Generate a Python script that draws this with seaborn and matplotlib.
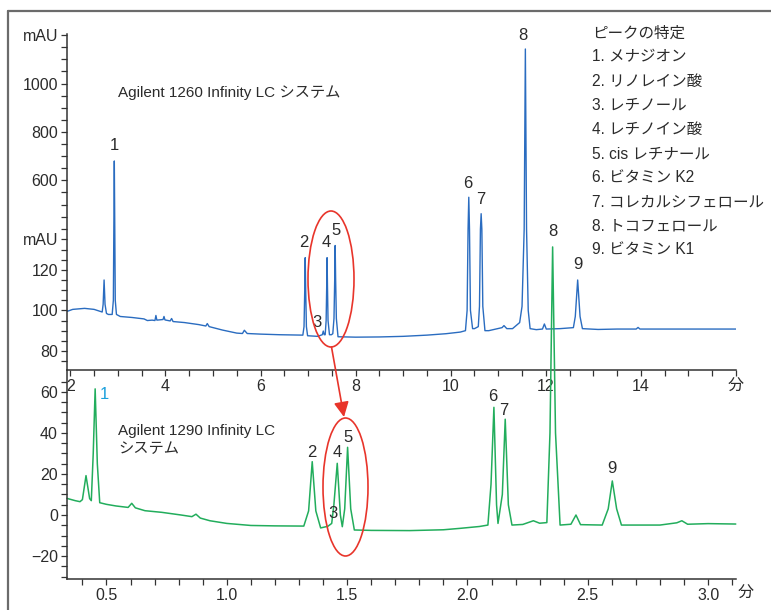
import numpy as np
import pandas as pd
import matplotlib
matplotlib.use("Agg")
import matplotlib.pyplot as plt
from matplotlib.patches import Ellipse, FancyArrowPatch
from matplotlib.lines import Line2D
from matplotlib import font_manager
import seaborn as sns

# ---------------- data ----------------
# Agilent 1260 chromatogram: time (min), signal (mAU)
t1260 = [1.93, 2.05, 2.30, 2.50, 2.67, 2.69, 2.71, 2.73, 2.76, 2.80, 2.88, 2.905, 2.915, 2.925, 2.935,
         2.945, 2.97, 3.05, 3.30, 3.55, 3.62, 3.72, 3.78, 3.80, 3.82, 3.95, 3.97, 3.99, 4.10, 4.13,
         4.16, 4.40, 4.70, 4.85, 4.88, 4.92, 5.20, 5.50, 5.62, 5.66, 5.72, 6.00, 6.40, 6.89, 6.915,
         6.93, 6.94, 6.95, 6.965, 6.99, 7.20, 7.30, 7.32, 7.34, 7.36, 7.38, 7.392, 7.40, 7.408, 7.42,
         7.45, 7.49, 7.52, 7.545, 7.56, 7.57, 7.58, 7.595, 7.63, 8.00, 8.50, 9.00, 9.50, 9.90, 10.20,
         10.31, 10.345, 10.365, 10.38, 10.395, 10.415, 10.46, 10.50, 10.58, 10.605, 10.625, 10.64,
         10.655, 10.675, 10.72, 10.80, 11.08, 11.12, 11.18, 11.30, 11.45, 11.50, 11.545, 11.57,
         11.595, 11.63, 11.67, 11.80, 11.93, 11.97, 12.01, 12.30, 12.58, 12.62, 12.645, 12.67,
         12.695, 12.72, 12.77, 13.10, 13.50, 13.90, 13.94, 13.98, 14.50, 16.00]
mau1260 = [99.5, 100.5, 101.0, 100.5, 99.2, 103, 115, 103, 98.5, 98.0, 98.0, 105, 200, 680, 200,
           105, 98.0, 97.0, 96.5, 95.8, 95.0, 95.2, 95.0, 97.5, 95.2, 95.5, 97.0, 95.3, 94.8, 96.0,
           94.5, 94.0, 93.0, 92.3, 93.5, 92.0, 90.3, 88.8, 88.6, 90.2, 88.6, 88.3, 88.0, 87.8, 92,
           110, 126, 110, 92, 87.5, 87.2, 88.0, 89.8, 88.0, 88.0, 95, 112, 126, 112, 95,
           88.0, 88.0, 88.5, 96, 115, 132, 115, 96, 87.0, 86.8, 86.9, 87.2, 87.8, 88.5, 89.3,
           90.0, 100, 200, 530, 200, 100, 91.0, 91.0, 92.0, 102, 200, 462,
           200, 102, 90.0, 90.0, 91.5, 92.5, 91.0, 91.0, 94.0, 102, 200, 1143,
           200, 100, 91.0, 90.5, 90.8, 93.3, 90.8, 91.0, 91.5, 97, 106, 115,
           106, 97, 91.0, 90.6, 90.8, 90.8, 91.6, 90.8, 90.8, 90.8]

# Agilent 1290 chromatogram: time (min), signal (mAU)
t1290 = [0.336, 0.37, 0.39, 0.40, 0.415, 0.43, 0.437, 0.445, 0.453, 0.462, 0.472, 0.50, 0.54, 0.59,
         0.605, 0.62, 0.66, 0.73, 0.81, 0.855, 0.872, 0.89, 0.93, 1.00, 1.10, 1.20, 1.32, 1.34,
         1.355, 1.37, 1.39, 1.42, 1.436, 1.445, 1.459, 1.472, 1.48, 1.49, 1.502, 1.515, 1.53, 1.60,
         1.76, 1.90, 1.97, 2.05, 2.085, 2.098, 2.11, 2.121, 2.127, 2.145, 2.157, 2.17, 2.185, 2.23,
         2.274, 2.30, 2.33, 2.343, 2.354, 2.366, 2.385, 2.43, 2.451, 2.47, 2.56, 2.585, 2.602, 2.62,
         2.64, 2.80, 2.87, 2.891, 2.915, 3.00, 3.115]
mau1290 = [8.1, 7.0, 6.5, 7.5, 19.2, 8.0, 7.0, 30, 61.5, 25, 6.0, 5.2, 4.4, 3.7,
           5.7, 3.5, 2.1, 1.3, 0.0, -0.8, 0.4, -1.5, -2.8, -4.1, -5.1, -5.3, -5.4, 2.0,
           26, 2.0, -6.3, -5.5, -4.1, 5.0, 25.2, 0.0, -5.7, 3.0, 33, 3.0, -7.3, -7.5,
           -7.6, -7.2, -6.5, -5.6, -4.9, 15, 52.5, 5.0, -4.1, 10, 46.7, 5.0, -4.9, -4.6,
           -2.8, -4.0, -3.7, 40, 130.7, 40, -4.9, -4.5, 0.0, -4.7, -4.9, 3.0, 16.6, 3.0,
           -4.9, -4.9, -3.8, -2.8, -4.5, -4.2, -4.4]

peak_labels = ["1", "2", "3", "4", "5", "6", "7", "8", "9"]
peak_t1260 = [2.925, 6.94, 7.32, 7.40, 7.57, 10.38, 10.64, 11.57, 12.67]
peak_h1260 = [680, 126, 89.8, 126, 132, 530, 462, 1143, 115]
peak_t1290 = [0.453, 1.355, 1.436, 1.459, 1.502, 2.11, 2.157, 2.354, 2.602]
peak_h1290 = [61.5, 26, -4.1, 25.2, 33, 52.5, 46.7, 130.7, 16.6]

legend_title = "ピークの特定"
compounds = ["メナジオン", "リノレイン酸", "レチノール", "レチノイン酸", "cis レチナール",
             "ビタミン K2", "コレカルシフェロール", "トコフェロール", "ビタミン K1"]
title_1260 = "Agilent 1260 Infinity LC システム"
title_1290 = "Agilent 1290 Infinity LC\nシステム"

xticks_1260 = [2, 4, 6, 8, 10, 12, 14]
xticks_1290 = [0.5, 1.0, 1.5, 2.0, 2.5, 3.0]
yticks_1260 = [80, 100, 120, 135, 600, 800, 1000, 1200]
ylabels_1260 = ["80", "100", "120", "mAU", "600", "800", "1000", "mAU"]
yticks_1290 = [-20, 0, 20, 40, 60]
unit_label = "分"

# ---------------- style ----------------
sns.set_style("ticks")
names = {f.name for f in font_manager.fontManager.ttflist}
latin = "Liberation Sans Narrow" if "Liberation Sans Narrow" in names else "Liberation Sans"
plt.rcParams["font.family"] = [latin, "Noto Sans CJK JP", "DejaVu Sans"]
plt.rcParams["axes.unicode_minus"] = True

TXT = "#2b2b2b"
BLUE = "#2a6cc0"
GREEN = "#22ad5c"
RED = "#e8352b"
W, H = 771, 610

fig = plt.figure(figsize=(W / 100, H / 100), dpi=100)
fig.patch.set_facecolor("white")

def fx(px):
    return px / W

def fy(py):
    return 1 - py / H

ax1 = fig.add_axes([fx(67), fy(370), fx(736) - fx(67), fy(34) - fy(370)])
ax2 = fig.add_axes([fx(67), fy(579), fx(736) - fx(67), fy(370) - fy(579)])
for ax in (ax1, ax2):
    ax.patch.set_alpha(0)
    for s in ("top", "right"):
        ax.spines[s].set_visible(False)
    for s in ("left", "bottom"):
        ax.spines[s].set_color("#333333")
        ax.spines[s].set_linewidth(1.1)
    ax.tick_params(which="both", direction="out", length=4, width=0.9, color="#333333",
                   labelsize=11.5, labelcolor=TXT, pad=2.5)

# broken (piecewise linear) y scale for the 1260 trace
r = 0.1193
KX = [-1e4, 140, 400, 1e4]
KY = [-1e4, 140, 140.3, 140.3 + (1e4 - 400) * r]

def fwd(y):
    return np.interp(y, KX, KY)

def inv(y):
    return np.interp(y, KY, KX)

df1 = pd.DataFrame({"t": t1260, "mAU": mau1260})
df2 = pd.DataFrame({"t": t1290, "mAU": mau1290})

sns.lineplot(data=df1, x="t", y="mAU", ax=ax1, color=BLUE, lw=1.0, estimator=None, sort=False)
ax1.set_yscale("function", functions=(fwd, inv))
ax1.set_xlim(1.93, 16.0)
ax1.set_ylim(70.6, 1205)
ax1.set_xticks(xticks_1260 + [16])
ax1.set_xticklabels([str(v) for v in xticks_1260] + [unit_label])
ax1.set_xticks(np.arange(2.5, 16.0, 0.5), minor=True)
ax1.set_yticks(yticks_1260)
ax1.set_yticklabels(ylabels_1260)
ax1.set_yticks(list(np.arange(75, 135, 5)) + list(np.arange(400, 1200, 50)), minor=True)
ax1.set_xlabel("")
ax1.set_ylabel("")

sns.lineplot(data=df2, x="t", y="mAU", ax=ax2, color=GREEN, lw=1.1, estimator=None, sort=False)
ax2.lines[-1].set_clip_on(False)
ax2.set_xlim(0.336, 3.116)
ax2.set_ylim(-31.2, 70.7)
ax2.set_xticks(xticks_1290)
ax2.set_xticklabels([f"{v:.1f}" for v in xticks_1290])
ax2.set_xticks(np.arange(0.4, 3.15, 0.1), minor=True)
ax2.set_yticks(yticks_1290)
ax2.set_yticklabels([str(v).replace("-", "\u2212") for v in yticks_1290])
ax2.set_yticks(np.arange(-30, 70, 5), minor=True)
ax2.set_xlabel("")
ax2.set_ylabel("")
ax2.annotate(unit_label, xy=(1, 0), xycoords="axes fraction", xytext=(1, -5),
             textcoords="offset points", ha="left", va="top", fontsize=11.5, color=TXT)

# peak labels (offsets in pixels: dx, dy-up)
off1 = [(0, 15), (-1, 15), (-6, 9), (-1, 15), (1, 15), (-1, 14), (0, 14), (-2, 13), (0, 15)]
off2 = [(9, -6), (0, 9), (1, 10), (0, 10.5), (0, 10), (-1, 11), (-1, 9), (0, 15), (0, 12)]
for lab, t, h, (dx, dy) in zip(peak_labels, peak_t1260, peak_h1260, off1):
    ax1.annotate(lab, xy=(t, h), xytext=(dx * 0.72, dy * 0.72), textcoords="offset points",
                 ha="center", va="center", fontsize=12, color=TXT, annotation_clip=False)
for i, (lab, t, h, (dx, dy)) in enumerate(zip(peak_labels, peak_t1290, peak_h1290, off2)):
    ax2.annotate(lab, xy=(t, h), xytext=(dx * 0.72, dy * 0.72), textcoords="offset points",
                 ha="center", va="center", fontsize=12,
                 color="#1ba0dc" if i == 0 else TXT, annotation_clip=False)

# titles / legend
fig.text(fx(118), fy(93), title_1260, ha="left", va="center", fontsize=11, color=TXT)
fig.text(fx(118), fy(440), title_1290, ha="left", va="center", fontsize=11, color=TXT,
         linespacing=1.35)
fig.text(fx(592), fy(33), legend_title, ha="left", va="center", fontsize=11.2, color=TXT)
for i, c in enumerate(compounds):
    fig.text(fx(592), fy(57 + i * 24.1), f"{i + 1}. {c}", ha="left", va="center",
             fontsize=11.2, color=TXT)

# overlay (pixel coordinates) for frame, ellipses and arrow
ov = fig.add_axes([0, 0, 1, 1], zorder=10)
ov.set_xlim(0, W)
ov.set_ylim(H, 0)
ov.axis("off")
ov.patch.set_alpha(0)
ov.add_line(Line2D([8, 8], [11, H], color="#6b6b6b", lw=1.6))
ov.add_line(Line2D([8, W], [11, 11], color="#6b6b6b", lw=1.6))
ov.add_patch(Ellipse((331, 279), 46, 136, fill=False, edgecolor=RED, lw=1.2))
ov.add_patch(Ellipse((345.5, 487), 45, 138, fill=False, edgecolor=RED, lw=1.2))
ov.add_patch(FancyArrowPatch((331.5, 347), (344, 417), arrowstyle="-|>,head_length=6,head_width=3",
                             color=RED, lw=1.2, mutation_scale=1.5, shrinkA=0, shrinkB=0))

fig.savefig("out.png", dpi=100, facecolor="white")
